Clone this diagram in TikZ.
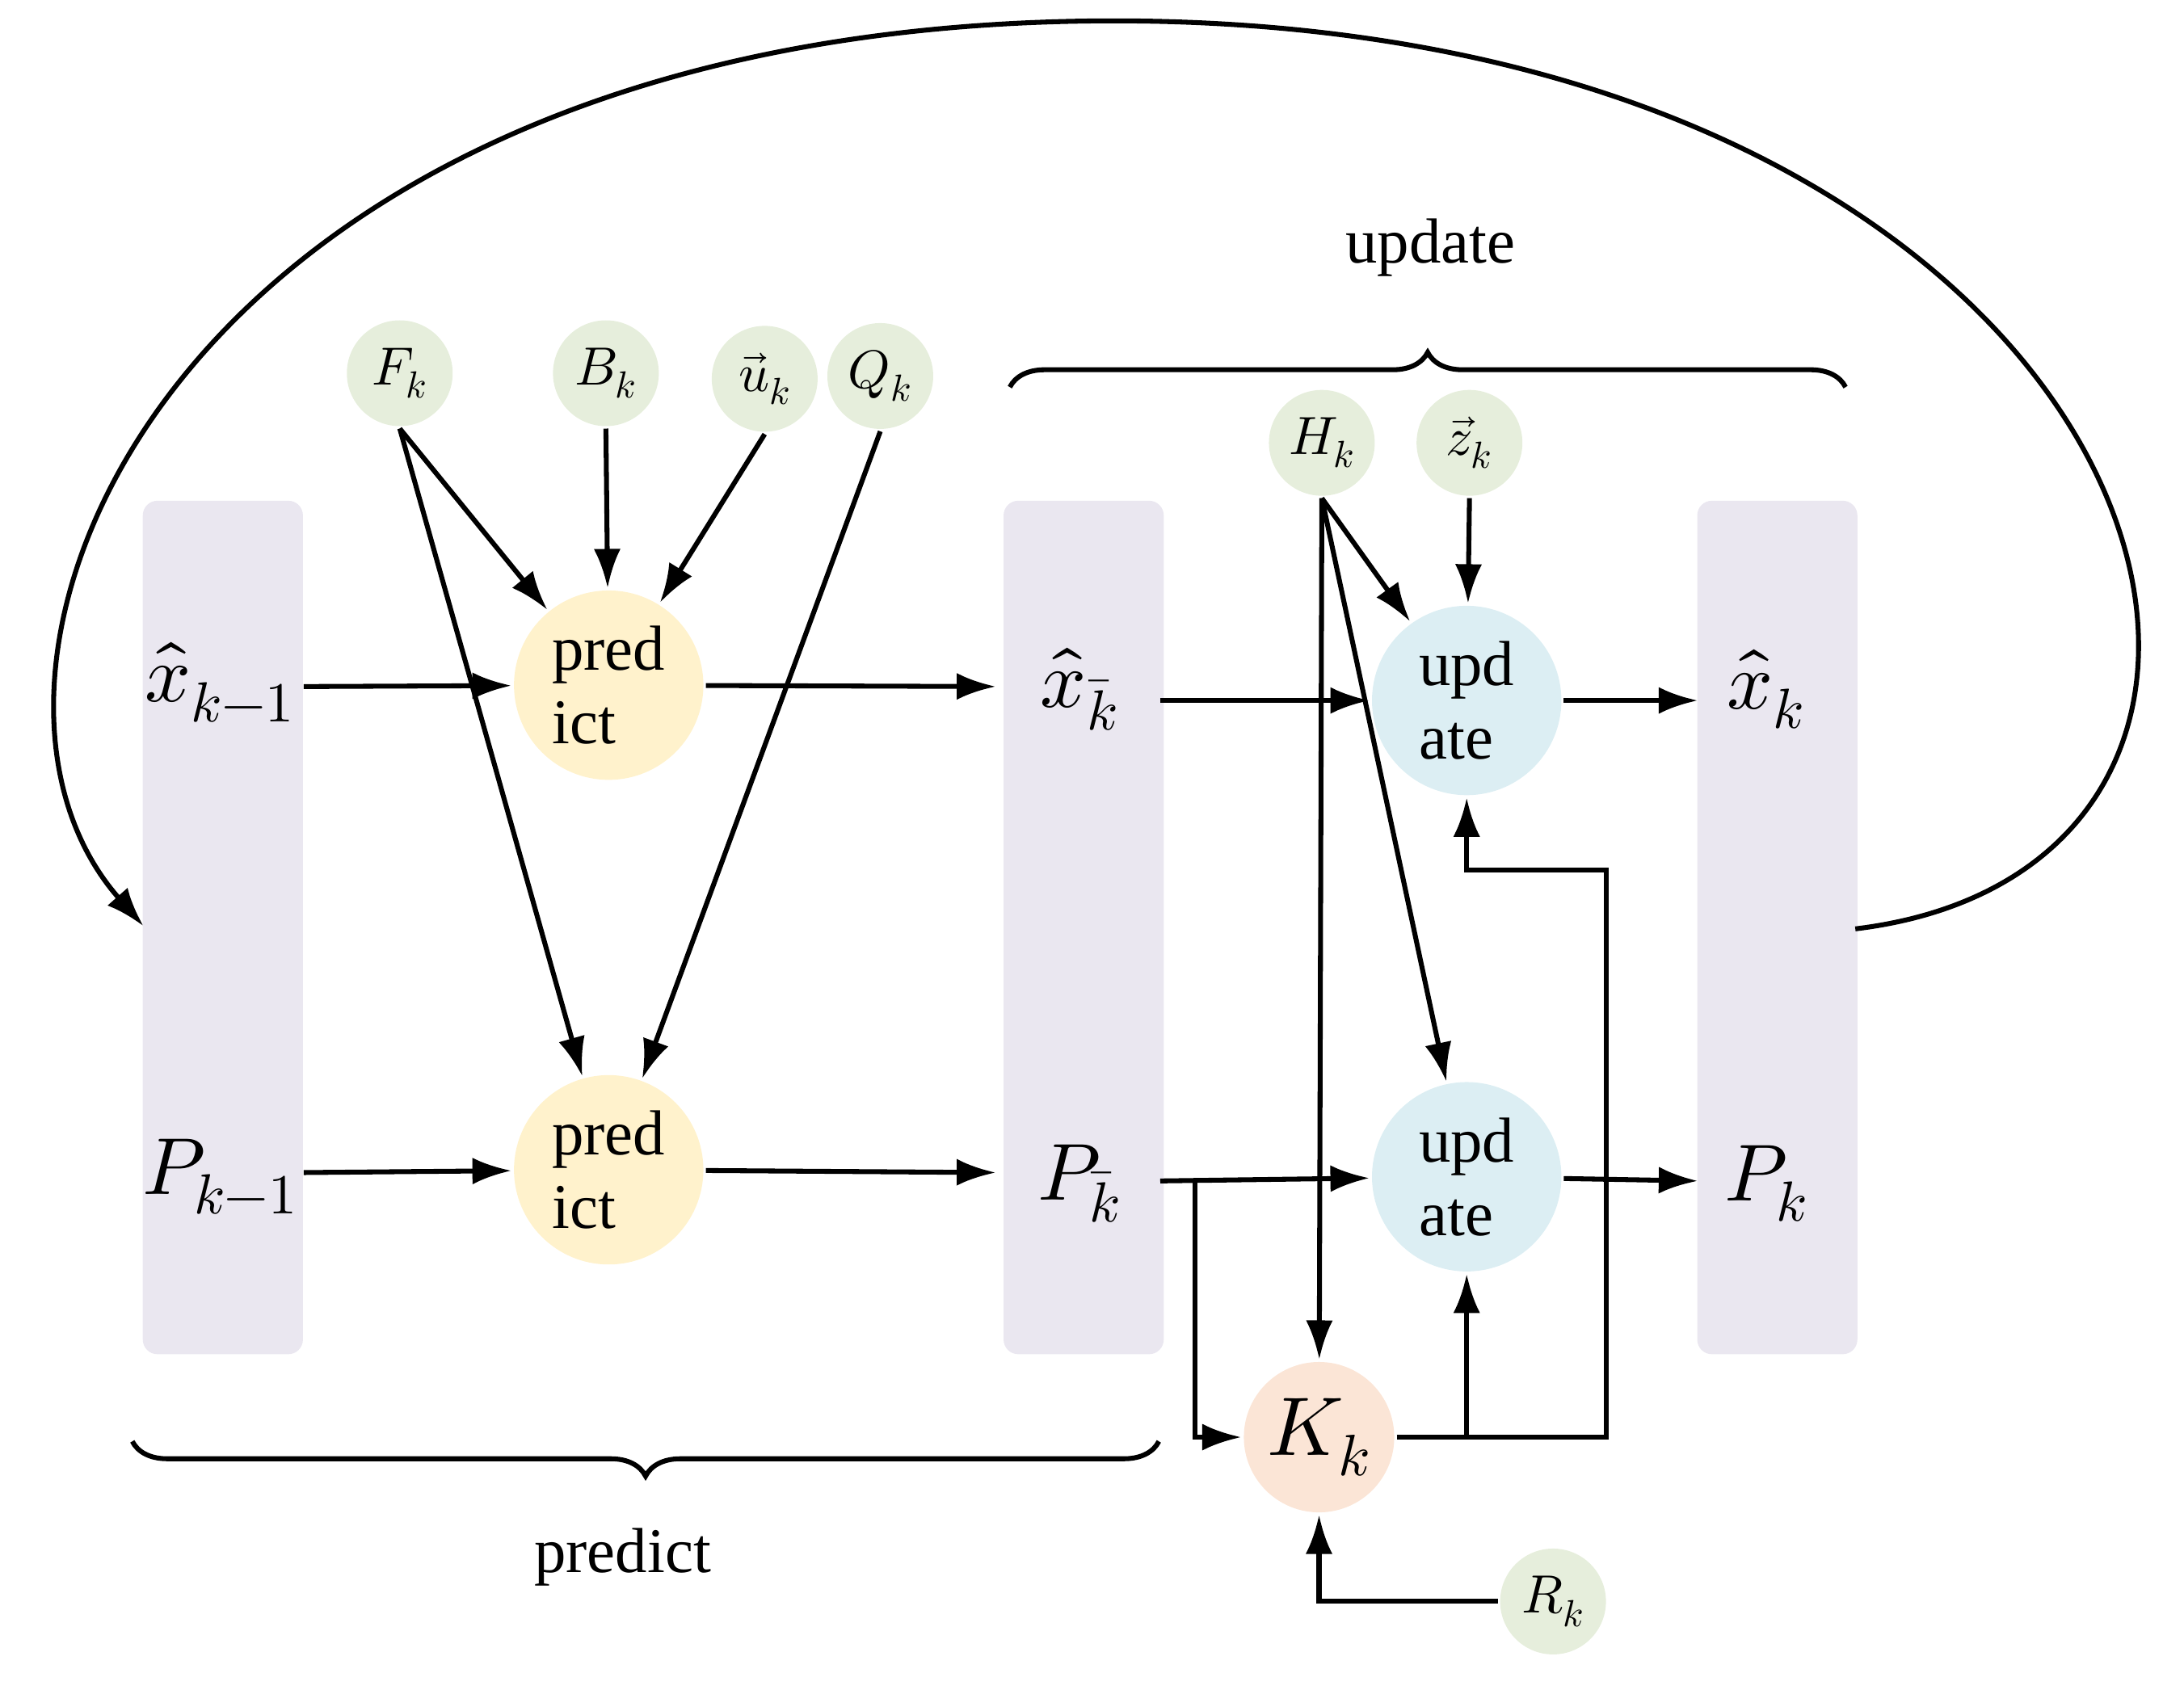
\documentclass[tikz,border=0pt]{standalone}
\usepackage{amsmath}
\usepackage{unicode-math}
\setmainfont{Liberation Serif}
\setmathfont{Latin Modern Math}
\usetikzlibrary{arrows.meta,decorations.pathreplacing}

\definecolor{barcol}{HTML}{EAE7F0}
\definecolor{predcol}{HTML}{FFF2CC}
\definecolor{updcol}{HTML}{DCEEF3}
\definecolor{parcol}{HTML}{E6EEDC}
\definecolor{gaincol}{HTML}{FBE5D6}

\begin{document}
\begin{tikzpicture}[
    x=0.02cm, y=-0.02cm,
    line width=2pt,
    bar/.style={rectangle, rounded corners=6pt, fill=barcol, minimum width=2.3cm, minimum height=12.26cm},
    state/.style={inner sep=1pt, font=\fontsize{33}{36}\selectfont},
    pred/.style={circle, fill=predcol, minimum size=2.72cm, align=left, inner sep=0pt, font=\fontsize{26}{30}\selectfont},
    upd/.style={circle, fill=updcol, minimum size=2.72cm, align=left, inner sep=0pt, font=\fontsize{26}{30}\selectfont},
    param/.style={circle, fill=parcol, minimum size=1.52cm, inner sep=0pt, font=\fontsize{22}{24}\selectfont},
    gain/.style={circle, fill=gaincol, minimum size=2.16cm, inner sep=0pt, font=\fontsize{34}{38}\selectfont},
    brace_label/.style={font=\fontsize{26}{30}\selectfont},
    arrow/.style={-{Latex[length=16pt,width=11pt]}},
    brc/.style={decorate, decoration={brace, amplitude=0.5cm}}
]
\useasboundingbox (0,0) rectangle (1568,1213);
% Column bars
\node[bar] (bar1) at (160,666) {};
\node[bar] (bar2) at (778,666) {};
\node[bar] (bar3) at (1276,666) {};
% States
\node[state] (xprev) at (158,490) {$\hat{x}_{k-1}$};
\node[state] (pprev) at (158,845) {$P_{k-1}$};
\node[state] (xpri) at (775,495) {$\hat{x}_{\bar{k}}$};
\node[state] (ppri) at (775,850) {$P_{\bar{k}}$};
\node[state] (xpost) at (1268,495) {$\hat{x}_{k}$};
\node[state] (ppost) at (1268,850) {$P_{k}$};
% Predict and update steps
\node[pred] (pred1) at (437,492) {pred\\ict};
\node[pred] (pred2) at (437,840) {pred\\ict};
\node[upd] (upd1) at (1053,503) {upd\\ate};
\node[upd] (upd2) at (1053,845) {upd\\ate};
\node[gain] (gain) at (947,1032) {$K_k$};
% Parameters
\node[param] (F) at (287,268) {$F_k$};
\node[param] (B) at (435,268) {$B_k$};
\node[param] (u) at (549,272) {$\vec{u}_k$};
\node[param] (Q) at (632,270) {$Q_k$};
\node[param] (H) at (949,318) {$H_k$};
\node[param] (z) at (1055,318) {$\vec{z}_k$};
\node[param] (R) at (1115,1150) {$R_k$};
% Braces
\draw[brc] (725,278) -- (1325,278);
\node[brace_label] (updlabel) at (1027,178) {update};
\draw[brc] (832,1035) -- (95,1035);
\node[brace_label] (predlabel) at (447,1118) {predict};
% Helper coordinates
\coordinate (xin) at (218,493);
\coordinate (xout) at (715,493);
\coordinate (pin) at (218,842);
\coordinate (pout) at (715,842);
\coordinate (xmid) at (833,503);
\coordinate (xend) at (1219,503);
\coordinate (pmid) at (833,848);
\coordinate (pend) at (1219,848);
\coordinate (loopstart) at (1332,667);
\coordinate (loopend) at (103,665);
% Main flow
\draw[arrow] (xin) -- (pred1);
\draw[arrow] (pred1) -- (xout);
\draw[arrow] (pin) -- (pred2);
\draw[arrow] (pred2) -- (pout);
\draw[arrow] (xmid) -- (upd1);
\draw[arrow] (upd1) -- (xend);
\draw[arrow] (pmid) -- (upd2);
\draw[arrow] (upd2) -- (pend);
% Parameter arrows
\draw[arrow] (F.south) -- (pred1);
\draw[arrow] (F.south) -- (pred2);
\draw[arrow] (B.south) -- (pred1);
\draw[arrow] (u.south) -- (pred1);
\draw[arrow] (Q.south) -- (pred2);
\draw[arrow] (H.south) -- (upd1);
\draw[arrow] (H.south) -- (upd2);
\draw[arrow] (H.south) -- (gain);
\draw[arrow] (z.south) -- (upd1);
% Gain
\draw[arrow] (858,848) |- (gain);
\draw[arrow] (gain.east) -- (1153,1032) |- (1053,625) -- (upd1);
\draw[arrow] (1053,1032) -- (upd2);
\draw[arrow] (R) -| (gain);
% Loop back
\draw[arrow] (loopstart) .. controls (1720,620) and (1560,10) .. (790,15)
    .. controls (120,20) and (-60,480) .. (loopend);
\end{tikzpicture}
\end{document}
